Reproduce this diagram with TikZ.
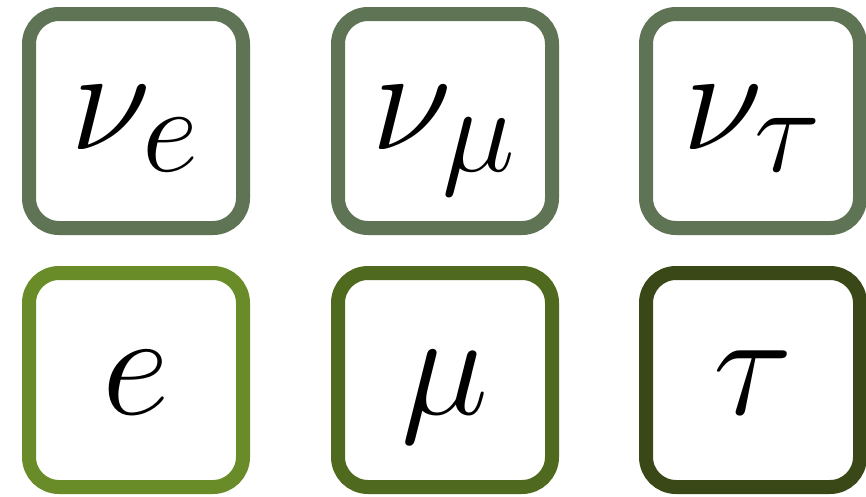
\documentclass[tikz,border=0pt]{standalone}
\usepackage{amsmath}
\usepackage{graphicx}
\usepackage{xcolor}
\usepackage{tikz}

\definecolor{nugreen}{HTML}{5F7355}
\definecolor{egreen}{HTML}{6A8C28}
\definecolor{mugreen}{HTML}{4F6A1E}
\definecolor{taugreen}{HTML}{394816}

\newcommand{\flav}[1]{\scalebox{1.69}{\Huge$#1$}}

\tikzset{
    flavour/.style={draw, rectangle, rounded corners=0.3cm, line width=0.14cm,
        minimum width=2.14cm, minimum height=2.14cm, fill=white, text depth=0pt},
    neutrino/.style={flavour, draw=nugreen, text height=0.56cm},
    lepton/.style={flavour, text height=0.68cm}
}

\begin{document}
\begin{tikzpicture}
    \useasboundingbox (0,0) rectangle (8.66,-4.96);

    % neutrinos
    \node[neutrino] (nue) at (1.36,-1.21) {\flav{\nu_e}};
    \node[neutrino] (numu) at (4.45,-1.21) {\flav{\nu_\mu}};
    \node[neutrino] (nutau) at (7.53,-1.21) {\flav{\nu_\tau}};

    % charged leptons
    \node[lepton, draw=egreen] (elec) at (1.36,-3.80) {\flav{e}};
    \node[lepton, draw=mugreen] (muon) at (4.45,-3.80) {\flav{\mu}};
    \node[lepton, draw=taugreen] (tauon) at (7.53,-3.80) {\flav{\tau}};
\end{tikzpicture}
\end{document}
